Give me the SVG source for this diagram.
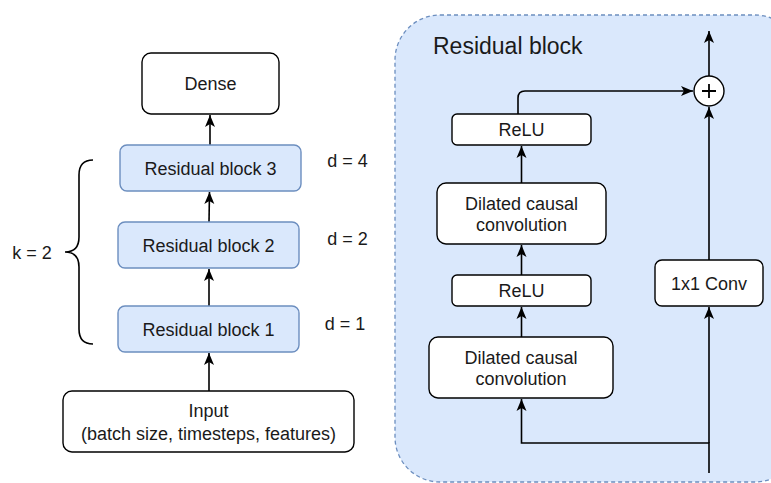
<svg xmlns="http://www.w3.org/2000/svg" width="771" height="483" viewBox="0 0 771 483">
<defs>
<style>
text{font-family:"Liberation Sans",Arial,sans-serif;font-size:18px;fill:#1a1a1a;text-anchor:middle}
.w{fill:#fff;stroke:#000;stroke-width:1.4}
.b{fill:#dae8fc;stroke:#6c8ebf;stroke-width:1.4}
.c{fill:none;stroke:#000;stroke-width:1.6}
.l{text-anchor:start}
</style>
<marker id="ah" markerUnits="userSpaceOnUse" markerWidth="14" markerHeight="14" viewBox="0 0 14 14" refX="13" refY="7" orient="auto">
<path d="M1,2 L13,7 L1,12 L4,7 Z" fill="#000"/>
</marker>
</defs>
<g id="container">
<rect x="395" y="15" width="405" height="467" rx="45" fill="#dae8fc" stroke="#6c8ebf" stroke-width="1.3" stroke-dasharray="4 3"/>
<text class="l" x="433" y="54" style="font-size:23px">Residual block</text>
</g>
<g id="connectors">
<path class="c" d="M209,391 L209,353" marker-end="url(#ah)"/>
<path class="c" d="M209,306 L209,269" marker-end="url(#ah)"/>
<path class="c" d="M209,222 L209.5,192" marker-end="url(#ah)"/>
<path class="c" d="M210,145 L210,115" marker-end="url(#ah)"/>
<path class="c" d="M93,160 Q79,160 79,175 L79,237 Q79,252 65,252 Q79,252 79,267 L79,329 Q79,344 93,344"/>
<path class="c" d="M709,473 L709,443 L521.5,443 L521.5,399" marker-end="url(#ah)"/>
<path class="c" d="M709,443 L709,307" marker-end="url(#ah)"/>
<path class="c" d="M521.5,337 L521.5,307" marker-end="url(#ah)"/>
<path class="c" d="M521.5,275 L521.5,245" marker-end="url(#ah)"/>
<path class="c" d="M521.5,183 L521.5,146" marker-end="url(#ah)"/>
<path class="c" d="M518,114 L518,98 Q518,91 525,91 L693,91" marker-end="url(#ah)"/>
<path class="c" d="M709,260 L709,107" marker-end="url(#ah)"/>
<path class="c" d="M709,76 L709,31" marker-end="url(#ah)"/>
</g>
<g id="dense"><rect class="w" x="142" y="53" width="137" height="61" rx="9"/><text x="210.5" y="90">Dense</text></g>
<g id="rb3"><rect class="b" x="120" y="145" width="181" height="46" rx="7"/><text x="210.5" y="175">Residual block 3</text></g>
<g id="rb2"><rect class="b" x="118" y="222" width="181" height="46" rx="7"/><text x="208.5" y="252">Residual block 2</text></g>
<g id="rb1"><rect class="b" x="118" y="306" width="181" height="46" rx="7"/><text x="208.5" y="336">Residual block 1</text></g>
<g id="input"><rect class="w" x="63" y="391" width="291" height="61" rx="9"/><text x="208.5" y="417">Input</text><text x="208.5" y="440">(batch size, timesteps, features)</text></g>
<g id="d4"><text x="347.5" y="167">d = 4</text></g>
<g id="d2"><text x="347.5" y="245">d = 2</text></g>
<g id="d1"><text x="345" y="330">d = 1</text></g>
<g id="k2"><text x="32" y="259">k = 2</text></g>
<g id="relu_top"><rect class="w" x="452" y="114" width="139" height="31" rx="5"/><text x="521.5" y="136">ReLU</text></g>
<g id="dcc_top"><rect class="w" x="437" y="183" width="169" height="61" rx="9"/><text x="521.5" y="210">Dilated causal</text><text x="521.5" y="231">convolution</text></g>
<g id="relu_bot"><rect class="w" x="452" y="275" width="139" height="31" rx="5"/><text x="521.5" y="297">ReLU</text></g>
<g id="dcc_bot"><rect class="w" x="429" y="337" width="184" height="61" rx="9"/><text x="521" y="364">Dilated causal</text><text x="521" y="385">convolution</text></g>
<g id="conv1x1"><rect class="w" x="655" y="260" width="108" height="46" rx="7"/><text x="709" y="290">1x1 Conv</text></g>
<g id="plus"><circle cx="709" cy="91" r="15" fill="#fff" stroke="#000" stroke-width="1.4"/><path d="M702,91 H716 M709,84 V98" stroke="#000" stroke-width="1.8"/></g>
</svg>
